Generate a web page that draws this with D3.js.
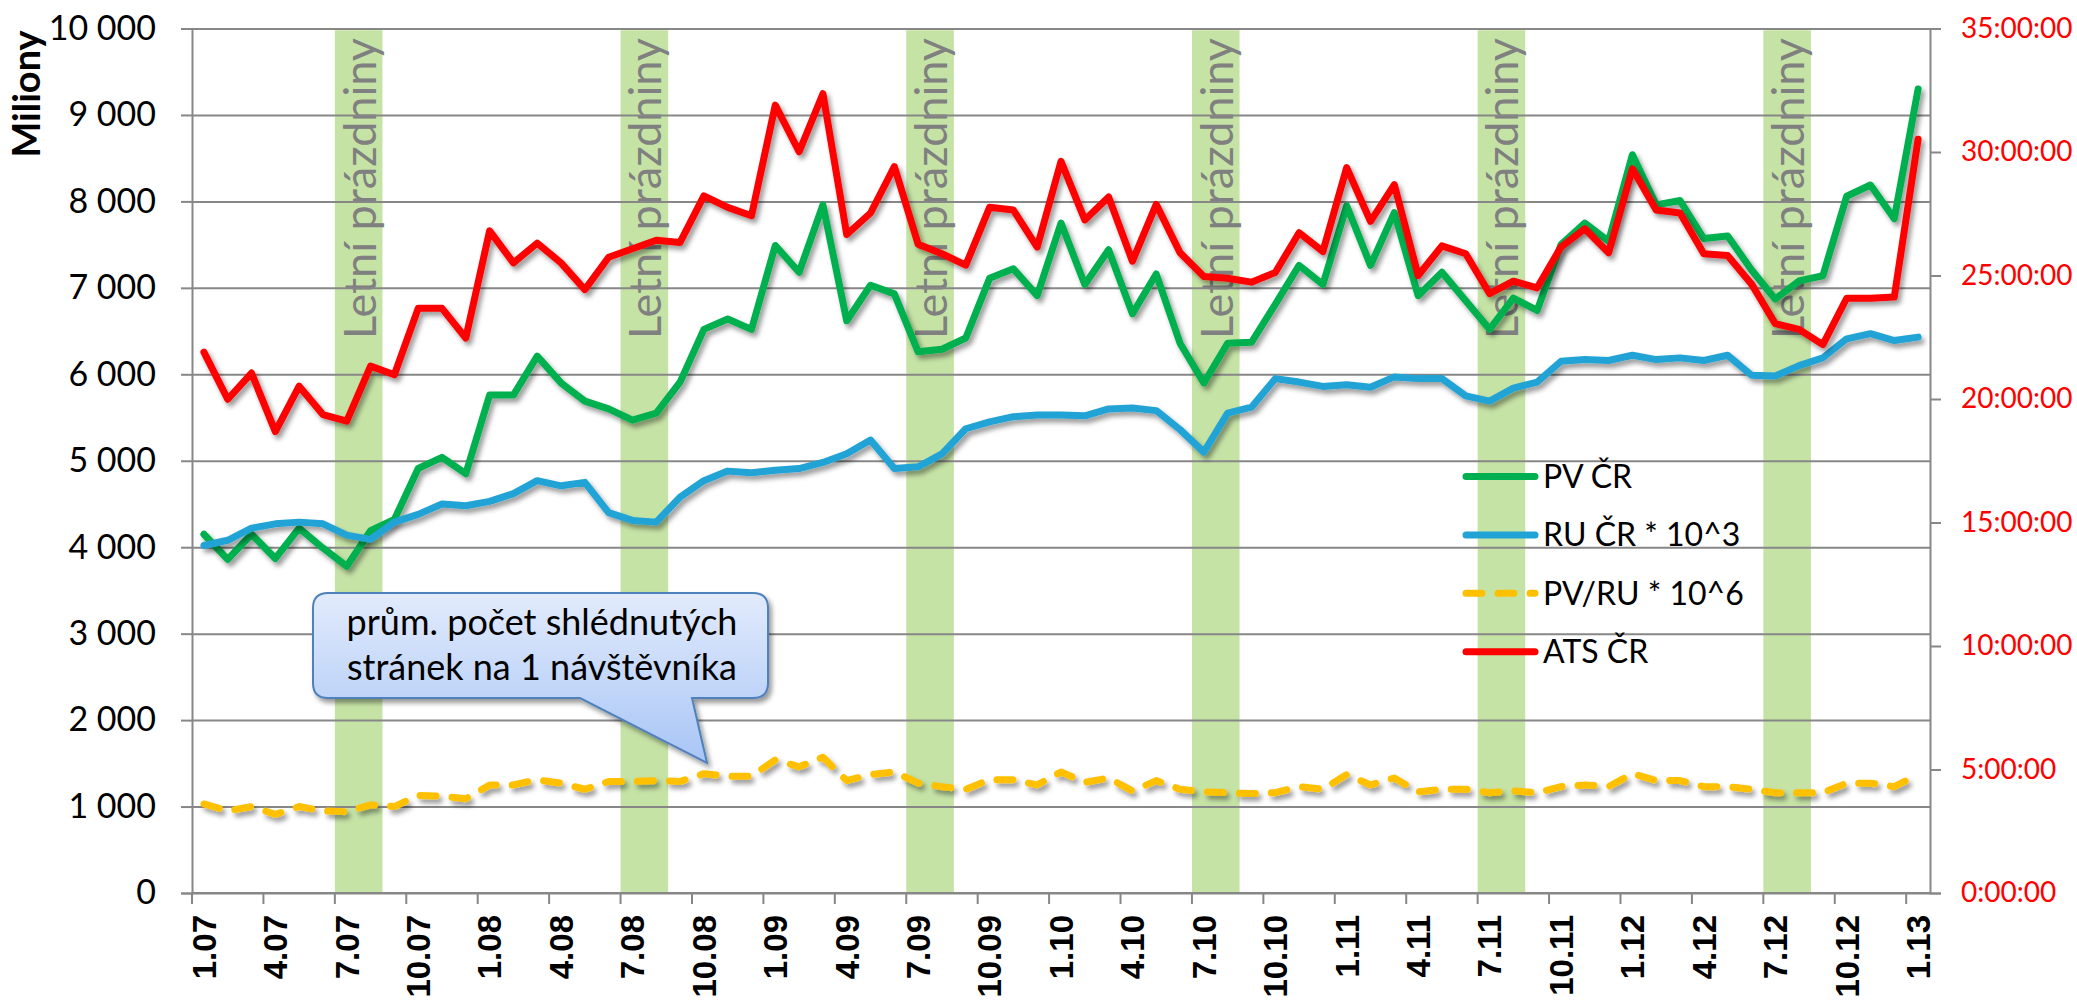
<!DOCTYPE html>
<html lang="cs">
<head>
<meta charset="utf-8">
<title>PV, RU a ATS ČR</title>
<script src="https://cdn.jsdelivr.net/npm/d3@7"></script>
<style>
  body { margin: 0; background: #fff; }
  svg { display: block; }
  text { font-family: Lato, 'Open Sans', sans-serif; }
  .xlab { font-family: 'Liberation Sans', Arial, sans-serif; font-weight: bold; }
</style>
</head>
<body>
<svg id="chart" width="2077" height="1001"></svg>
<script>

// months 1.07 .. 1.13
var months = [];
for (var yr = 7; yr <= 13; yr++) {
    for (var m = 1; m <= 12; m++) {
        if (yr == 13 && m > 1) break;
        months.push(m + '.' + (yr < 10 ? '0' + yr : yr));
    }
}

var tickLabels = ['1.07', '4.07', '7.07', '10.07', '1.08', '4.08', '7.08', '10.08',
                  '1.09', '4.09', '7.09', '10.09', '1.10', '4.10', '7.10', '10.10',
                  '1.11', '4.11', '7.11', '10.11', '1.12', '4.12', '7.12', '10.12', '1.13'];

// summer holidays (July + August)
var summers = [['7.07', '8.07'], ['7.08', '8.08'], ['7.09', '8.09'],
               ['7.10', '8.10'], ['7.11', '8.11'], ['7.12', '8.12']];

// PV CR (millions)
var pvCR = [4150, 3860, 4150, 3870, 4220, 3990, 3780, 4190, 4320, 4910, 5040, 4850,
            5760, 5760, 6210, 5900, 5690, 5600, 5470, 5550, 5910, 6520, 6640, 6520,
            7490, 7180, 7960, 6620, 7030, 6930, 6260, 6290, 6420, 7110, 7220, 6910,
            7750, 7040, 7440, 6700, 7160, 6360, 5900, 6360, 6370, 6810, 7260, 7040,
            7950, 7260, 7870, 6910, 7180, 6850, 6520, 6880, 6740, 7500, 7750, 7540,
            8540, 7960, 8010, 7570, 7600, 7210, 6870, 7080, 7140, 8060, 8190, 7800,
            9300];

// RU CR * 10^3
var ruCR = [4020, 4080, 4220, 4270, 4290, 4270, 4140, 4090, 4290, 4380, 4500, 4480,
            4530, 4620, 4770, 4710, 4750, 4400, 4310, 4290, 4580, 4770, 4880, 4860,
            4890, 4910, 4980, 5080, 5240, 4910, 4930, 5080, 5370, 5450, 5510, 5530,
            5530, 5520, 5600, 5610, 5580, 5360, 5100, 5550, 5620, 5950, 5910, 5860,
            5880, 5850, 5970, 5950, 5950, 5750, 5690, 5840, 5910, 6150, 6170, 6160,
            6220, 6170, 6190, 6160, 6220, 5990, 5980, 6100, 6190, 6410, 6470, 6390,
            6430];

// PV/RU * 10^6
var pvPerRu = [1030, 950, 1000, 910, 1000, 950, 940, 1020, 1000, 1130, 1120, 1090,
               1250, 1250, 1310, 1270, 1200, 1290, 1290, 1300, 1290, 1380, 1350, 1350,
               1540, 1460, 1570, 1300, 1370, 1400, 1270, 1230, 1200, 1310, 1310, 1250,
               1400, 1280, 1330, 1180, 1300, 1200, 1170, 1160, 1150, 1160, 1230, 1200,
               1370, 1250, 1330, 1170, 1200, 1200, 1160, 1180, 1160, 1230, 1250, 1230,
               1380, 1300, 1300, 1230, 1230, 1200, 1160, 1160, 1160, 1270, 1270, 1230,
               1370];

// ATS CR (hours, right axis)
var atsHours = [21.90, 19.99, 21.05, 18.68, 20.52, 19.37, 19.10, 21.33, 20.98, 23.67, 23.67, 22.47,
                26.81, 25.51, 26.31, 25.51, 24.43, 25.74, 26.08, 26.43, 26.34, 28.22, 27.76, 27.42,
                31.90, 30.01, 32.36, 26.66, 27.53, 29.41, 26.27, 25.88, 25.42, 27.76, 27.65, 26.15,
                29.62, 27.25, 28.18, 25.58, 27.88, 25.92, 24.96, 24.89, 24.73, 25.12, 26.73, 25.97,
                29.37, 27.19, 28.68, 25.00, 26.20, 25.88, 24.27, 24.77, 24.50, 26.15, 26.89, 25.92,
                29.32, 27.65, 27.53, 25.88, 25.81, 24.66, 23.05, 22.82, 22.20, 24.08, 24.08, 24.13,
                30.52];

var leftTicks = [0, 1000, 2000, 3000, 4000, 5000, 6000, 7000, 8000, 9000, 10000];
var rightTicks = [0, 5, 10, 15, 20, 25, 30, 35];

var seriesInfo = [
    {name: 'PV ČR', values: pvCR, color: '#00b050', axis: 'left'},
    {name: 'RU ČR * 10^3', values: ruCR, color: '#22a3d6', axis: 'left'},
    {name: 'PV/RU * 10^6', values: pvPerRu, color: '#ffc000', axis: 'left', dash: true},
    {name: 'ATS ČR', values: atsHours, color: '#ff0000', axis: 'right'}
];

var plotLeft = 192, plotRight = 1930, plotTop = 28.5, plotBottom = 893;

var svg = d3.select('#chart');

var defs = svg.append('defs');
var shadow = defs.append('filter').attr('id', 'shadow')
    .attr('x', '-10%').attr('y', '-10%').attr('width', '130%').attr('height', '130%');
shadow.append('feDropShadow')
    .attr('dx', 3).attr('dy', 4).attr('stdDeviation', 2.5)
    .attr('flood-color', '#000').attr('flood-opacity', 0.4);

var grad = defs.append('linearGradient').attr('id', 'calloutFill')
    .attr('x1', 0).attr('y1', 0).attr('x2', 0).attr('y2', 1);
grad.append('stop').attr('offset', '0%').attr('stop-color', '#e2ebfc');
grad.append('stop').attr('offset', '100%').attr('stop-color', '#a8c5f6');

var x = d3.scaleBand().domain(months).range([plotLeft, plotRight]);
var yL = d3.scaleLinear().domain([0, 10000]).range([plotBottom, plotTop]);
var yR = d3.scaleLinear().domain([0, 35]).range([plotBottom, plotTop]);
var bw = x.bandwidth();

// summer bands
var bands = svg.append('g');
summers.forEach(function(s) {
    var x0 = x(s[0]), x1 = x(s[1]) + bw;
    bands.append('rect')
        .attr('x', x0).attr('y', yL(9980))
        .attr('width', x1 - x0).attr('height', yL(0) - yL(9980))
        .attr('fill', '#c6e3a6');
    bands.append('text')
        .attr('transform', 'translate(' + ((x0 + x1) / 2 + 17) + ',' + 38 + ') rotate(-90)')
        .attr('text-anchor', 'end')
        .attr('font-size', 45)
        .attr('fill', '#808080')
        .text('Letní prázdniny');
});

// gridlines
var fmt = function(d) { return d3.format(',')(d).replace(/,/g, ' '); };
svg.append('g')
    .attr('transform', 'translate(' + plotLeft + ',0)')
    .call(d3.axisLeft(yL).tickValues(leftTicks).tickSize(-(plotRight - plotLeft)).tickFormat(''))
    .call(function(g) {
        g.select('.domain').remove();
        g.selectAll('line').attr('stroke', '#878787').attr('stroke-width', 2);
    });

// left axis
svg.append('g')
    .attr('transform', 'translate(' + plotLeft + ',0)')
    .call(d3.axisLeft(yL).tickValues(leftTicks).tickSize(11).tickPadding(25).tickFormat(fmt))
    .call(function(g) {
        g.select('.domain').attr('stroke', '#878787').attr('stroke-width', 2);
        g.selectAll('line').attr('stroke', '#878787').attr('stroke-width', 2);
        g.selectAll('text').attr('font-family', 'Lato').attr('font-size', 34).attr('fill', '#000');
    });

// right axis
svg.append('g')
    .attr('transform', 'translate(' + plotRight + ',0)')
    .call(d3.axisRight(yR).tickValues(rightTicks).tickSize(11).tickPadding(20)
        .tickFormat(function(d) { return d + ':00:00'; }))
    .call(function(g) {
        g.select('.domain').attr('stroke', '#878787').attr('stroke-width', 2);
        g.selectAll('line').attr('stroke', '#878787').attr('stroke-width', 2);
        g.selectAll('text').attr('font-family', 'Lato').attr('font-size', 28).attr('fill', '#ff0000');
    });

// bottom axis: ticks between every third month
var xAxis = svg.append('g');
xAxis.append('line')
    .attr('x1', plotLeft).attr('x2', plotRight).attr('y1', plotBottom).attr('y2', plotBottom)
    .attr('stroke', '#878787').attr('stroke-width', 2);
xAxis.selectAll('.tk').data(tickLabels).enter().append('line')
    .attr('x1', function(d) { return x(d); })
    .attr('x2', function(d) { return x(d); })
    .attr('y1', plotBottom).attr('y2', plotBottom + 11)
    .attr('stroke', '#878787').attr('stroke-width', 2);
xAxis.selectAll('text').data(tickLabels).enter().append('text')
    .attr('class', 'xlab')
    .attr('transform', function(d) {
        return 'translate(' + (x(d) + bw / 2) + ',' + (plotBottom + 22) + ') rotate(-90)';
    })
    .attr('dy', '0.36em')
    .attr('text-anchor', 'end')
    .attr('font-size', 33)
    .text(function(d) { return d; });

// axis title
svg.append('text')
    .attr('transform', 'translate(27,94) rotate(-90)')
    .attr('dy', '0.35em')
    .attr('text-anchor', 'middle')
    .attr('font-size', 38)
    .attr('font-weight', 'bold')
    .text('Miliony');

// series
var lines = svg.append('g');
seriesInfo.forEach(function(s) {
    var yScale = s.axis == 'right' ? yR : yL;
    var line = d3.line()
        .x(function(d, i) { return x(months[i]) + bw / 2; })
        .y(function(d) { return yScale(d); });
    lines.append('path')
        .datum(s.values)
        .attr('d', line)
        .attr('fill', 'none')
        .attr('stroke', s.color)
        .attr('stroke-width', 7)
        .attr('stroke-linejoin', 'round')
        .attr('stroke-linecap', 'round')
        .attr('stroke-dasharray', s.dash ? '16 16' : null)
        .attr('filter', 'url(#shadow)');
});

// legend
var legend = svg.append('g');
seriesInfo.forEach(function(s, i) {
    var ly = 476.5 + i * 58.4;
    legend.append('line')
        .attr('x1', 1466).attr('x2', 1535).attr('y1', ly).attr('y2', ly)
        .attr('stroke', s.color).attr('stroke-width', 7)
        .attr('stroke-linecap', 'round')
        .attr('stroke-dasharray', s.dash ? '16 16' : null);
    legend.append('text')
        .attr('x', 1543).attr('y', ly).attr('dy', '0.35em')
        .attr('font-size', 32)
        .text(s.name);
});

// callout
var callout = svg.append('g');
var bx0 = 313, bx1 = 768, by0 = 593, by1 = 698, r = 15;
var p = d3.path();
p.moveTo(bx0 + r, by0);
p.lineTo(bx1 - r, by0);
p.quadraticCurveTo(bx1, by0, bx1, by0 + r);
p.lineTo(bx1, by1 - r);
p.quadraticCurveTo(bx1, by1, bx1 - r, by1);
p.lineTo(692, by1);
p.lineTo(707, 763);
p.lineTo(580, by1);
p.lineTo(bx0 + r, by1);
p.quadraticCurveTo(bx0, by1, bx0, by1 - r);
p.lineTo(bx0, by0 + r);
p.quadraticCurveTo(bx0, by0, bx0 + r, by0);
p.closePath();
callout.append('path')
    .attr('d', p.toString())
    .attr('fill', 'url(#calloutFill)')
    .attr('stroke', '#4f81bd')
    .attr('stroke-width', 2)
    .attr('filter', 'url(#shadow)');
callout.append('text')
    .attr('x', 542).attr('y', 635)
    .attr('text-anchor', 'middle').attr('font-size', 36)
    .text('prům. počet shlédnutých');
callout.append('text')
    .attr('x', 542).attr('y', 680)
    .attr('text-anchor', 'middle').attr('font-size', 36)
    .text('stránek na 1 návštěvníka');

</script>
</body>
</html>
